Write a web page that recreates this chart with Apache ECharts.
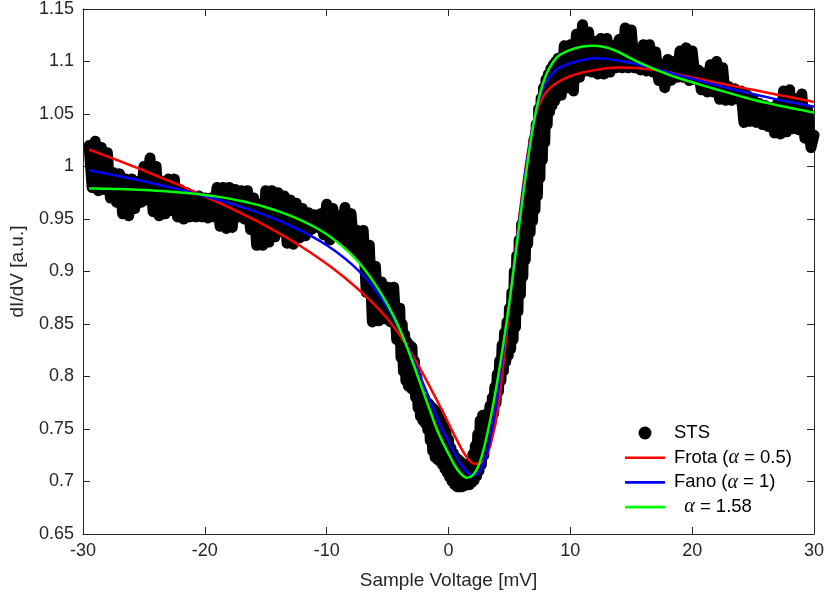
<!DOCTYPE html>
<html><head><meta charset="utf-8">
<script src="https://cdn.jsdelivr.net/npm/echarts/dist/echarts.min.js"></script>
<style>html,body{margin:0;padding:0;background:#fff}#c{width:829px;height:604px}</style>
</head><body><div id="c"></div>
<script>
// ---- axis ticks ----
const xMin = -30, xMax = 30, xStep = 10;
const yMin = 0.65, yMax = 1.15, yStep = 0.05;

const stsA_start = -29.5, stsA_step = 0.25;
const stsA = [1.02,0.98,1.024,0.977,1.018,0.978,1.013,0.97,0.994,0.966,
 0.993,0.955,0.988,0.953,0.988,0.96,0.986,0.966,1.0,0.968,
 1.008,0.957,1.0,0.953,0.986,0.955,0.988,0.958,0.988,0.952,
 0.978,0.95,0.975,0.952,0.972,0.952,0.972,0.952,0.97,0.951,
 0.97,0.952,0.98,0.943,0.98,0.941,0.98,0.942,0.978,0.952,
 0.977,0.95,0.977,0.94,0.97,0.925,0.964,0.925,0.977,0.928,
 0.977,0.933,0.975,0.938,0.972,0.927,0.968,0.926,0.965,0.932,
 0.96,0.934,0.956,0.94,0.954,0.942,0.955,0.935,0.964,0.93,
 0.96,0.935,0.953,0.93,0.961,0.925,0.955,0.92,0.939,0.915,
 0.939,0.88,0.925,0.852,0.905,0.853,0.89,0.855,0.885,0.852,
 0.885,0.835];
const stsB_start = -4.0, stsB_step = 0.1;
const stsB = [0.865,0.818,0.85,0.805,0.84,0.796,0.833,0.791,0.83,0.789,
 0.828,0.787,0.815,0.78,0.80,0.77,0.786,0.762,0.78,0.758,
 0.777,0.755,0.775,0.749,0.774,0.739,0.771,0.729,0.769,0.723,
 0.767,0.721,0.765,0.719,0.76,0.716,0.754,0.712,0.747,0.708,
 0.74,0.704,0.732,0.70,0.727,0.697,0.723,0.695,0.721,0.695,
 0.719,0.695,0.717,0.696,0.716,0.697,0.716,0.697,0.718,0.699,
 0.726,0.701,0.734,0.705,0.745,0.71,0.758,0.716,0.763,0.725,
 0.763,0.736,0.765,0.747,0.772,0.756,0.78,0.765,0.79,0.775,
 0.802,0.786,0.815,0.796,0.83,0.805,0.842,0.814,0.852,0.82,
 0.865,0.826,0.88,0.835,0.90,0.847,0.915,0.862,0.93,0.878,
 0.945,0.895,0.955,0.911,0.97,0.926,0.985,0.937,1.005,0.948,
 1.025,0.959,1.04,0.972,1.055,0.989,1.065,1.006,1.075,1.023,
 1.083,1.04,1.088,1.052,1.093,1.058,1.097,1.062,1.10,1.066,
 1.103];
const stsC_start = 9.25, stsC_step = 0.25;
const stsC = [1.068,1.115,1.075,1.116,1.072,1.126,1.085,1.135,1.091,1.128,
 1.09,1.119,1.088,1.122,1.088,1.122,1.09,1.115,1.094,1.121,
 1.094,1.132,1.094,1.13,1.094,1.111,1.092,1.116,1.091,1.116,
 1.09,1.109,1.082,1.097,1.075,1.102,1.082,1.10,1.085,1.11,
 1.085,1.113,1.082,1.11,1.083,1.092,1.073,1.089,1.071,1.097,
 1.071,1.10,1.064,1.094,1.063,1.076,1.063,1.074,1.064,1.072,
 1.042,1.068,1.043,1.064,1.042,1.06,1.04,1.058,1.038,1.056,
 1.032,1.06,1.031,1.072,1.033,1.073,1.036,1.064,1.035,1.069,
 1.027,1.053,1.018,1.03];

// ---- fitted curves (sampled) ----
const curveX = [-29.5,-29,-28,-27,-26,-25,-24,-23,-22,-21,-20,-19,-18,-17,-16,-15,-14,-13,-12,-11,-10,-9,-8,-7,-6,-5,-4,-3,-2,
 -1.5,-1,-0.5,0,0.5,1,1.5,2,2.5,3,3.5,4,4.5,5,5.5,6,6.5,7,7.5,8,8.5,9,
 10,11,12,13,14,15,16,17,18,19,20,21,22,23,24,25,26,27,28,29,30];
const frota = [1.016,1.0139,1.0096,1.0052,1.0007,0.9961,0.9914,0.9866,0.9817,0.9767,0.9716,0.9664,0.961,0.9554,0.9496,0.9435,0.9371,0.9303,0.9231,0.9155,0.9073,0.8985,0.889,0.8787,0.8675,0.8547,0.8395,0.8213,0.8005,
 0.7895,0.7785,0.7672,0.7555,0.7437,0.7325,0.7232,0.7175,0.7168,0.7218,0.7375,0.765,0.811,0.866,0.92,0.97,1.0125,1.0425,1.0605,1.0705,1.0765,1.0805,
 1.086,1.0895,1.0918,1.0935,1.0942,1.094,1.0932,1.0918,1.09,1.0874,1.0848,1.0823,1.0799,1.0776,1.0753,1.073,1.0707,1.0684,1.0661,1.0638,1.0615];
const fano = [0.9965,0.9953,0.9931,0.9908,0.9884,0.9859,0.9833,0.9806,0.9778,0.9749,0.9718,0.9686,0.9652,0.9616,0.9577,0.9535,0.9489,0.9438,0.9382,0.932,0.925,0.917,0.9075,0.8962,0.8825,0.8655,0.8442,0.8185,0.791,
 0.777,0.7627,0.7498,0.7385,0.727,0.7167,0.7093,0.7058,0.7085,0.7205,0.7455,0.7805,0.8255,0.8695,0.918,0.966,1.009,1.043,1.066,1.08,1.088,1.0935,
 1.0985,1.1015,1.103,1.1025,1.1008,1.0985,1.0958,1.0928,1.0897,1.0866,1.0836,1.0805,1.0776,1.0746,1.0717,1.069,1.0664,1.0639,1.0615,1.0592,1.057];
const alpha158 = [0.979,0.979,0.9788,0.9785,0.9781,0.9776,0.977,0.9762,0.9753,0.9742,0.9729,0.9713,0.9694,0.9671,0.9644,0.9612,0.9575,0.9532,0.9482,0.9424,0.9355,0.9268,0.9165,0.9035,0.8875,0.8685,0.845,0.8155,0.783,
 0.767,0.751,0.738,0.7265,0.7155,0.7075,0.7035,0.706,0.716,0.736,0.763,0.795,0.831,0.871,0.916,0.962,1.005,1.042,1.069,1.087,1.098,1.105,
 1.111,1.1142,1.115,1.1132,1.1088,1.1028,1.0972,1.0922,1.0878,1.0838,1.0803,1.0768,1.0734,1.0701,1.0668,1.0636,1.0609,1.0584,1.056,1.0537,1.0513];

const names = ['STS', 'Frota (α = 0.5)', 'Fano (α = 1)', '  α = 1.58'];

function seg(start, step, ys) { return ys.map((y, i) => [+(start + i * step).toFixed(3), y]); }
const stsData = seg(stsA_start, stsA_step, stsA).concat(seg(stsB_start, stsB_step, stsB), seg(stsC_start, stsC_step, stsC));
const zip = ys => curveX.map((x, i) => [x, ys[i]]);

const FONT = 'Liberation Sans';
const AX = '#262626';
const lineIcon = 'path://M0,0 M0,5.2 L40,5.2 L40,7.8 L0,7.8 Z M40,13';
const fmt = v => String(parseFloat((+v).toFixed(2)));

const chart = echarts.init(document.getElementById('c'), null, {renderer: 'canvas'});
const baseX = {type: 'value', min: xMin, max: xMax, interval: xStep, splitLine: {show: false},
  axisLine: {show: true, onZero: false, lineStyle: {color: AX, width: 1}},
  axisTick: {show: true, inside: true, length: 7, lineStyle: {color: AX, width: 1}}};
const baseY = {type: 'value', min: yMin, max: yMax, interval: yStep, splitLine: {show: false},
  axisLine: {show: true, onZero: false, lineStyle: {color: AX, width: 1}},
  axisTick: {show: true, inside: true, length: 7, lineStyle: {color: AX, width: 1}}};

chart.setOption({
  animation: false,
  backgroundColor: '#fff',
  grid: {left: 82, right: 15, top: 8, bottom: 70, containLabel: false},
  xAxis: [
    Object.assign({}, baseX, {position: 'bottom',
      axisLabel: {margin: 8, fontFamily: FONT, fontSize: 18, color: AX, formatter: fmt},
      name: 'Sample Voltage [mV]', nameLocation: 'middle', nameGap: 37,
      nameTextStyle: {fontFamily: FONT, fontSize: 19, color: AX}}),
    Object.assign({}, baseX, {position: 'top', axisLabel: {show: false}})
  ],
  yAxis: [
    Object.assign({}, baseY, {position: 'left',
      axisLabel: {margin: 9, fontFamily: FONT, fontSize: 18, color: AX, formatter: fmt},
      name: 'dI/dV [a.u.]', nameLocation: 'middle', nameGap: 56, nameRotate: 90,
      nameTextStyle: {fontFamily: FONT, fontSize: 19, color: AX}}),
    Object.assign({}, baseY, {position: 'right', axisLabel: {show: false}})
  ],
  legend: {
    orient: 'vertical', left: 625, top: 423, padding: 0, itemGap: 4.7,
    itemWidth: 40, itemHeight: 13, selectedMode: false,
    itemStyle: {borderWidth: 0},
    textStyle: {fontFamily: FONT, fontSize: 18.5, color: '#000', lineHeight: 20, padding: [0, 0, 0, 4],
      rich: {a: {fontFamily: 'Liberation Serif', fontStyle: 'italic', fontSize: 20, color: '#000'}}},
    formatter: n => n.replace(/α/g, '{a|α}'),
    data: [{name: names[0], icon: 'circle'}, {name: names[1], icon: lineIcon},
           {name: names[2], icon: lineIcon}, {name: names[3], icon: lineIcon}]
  },
  series: [
    {name: names[0], type: 'line', data: stsData, showSymbol: false, clip: false, silent: true, z: 1,
      lineStyle: {color: '#000', width: 11, cap: 'round', join: 'round'}, itemStyle: {color: '#000'}},
    {name: names[1], type: 'line', data: zip(frota), smooth: 0.3, showSymbol: false, z: 2, silent: true,
      lineStyle: {color: '#ff0000', width: 2.5}, itemStyle: {color: '#ff0000'}},
    {name: names[2], type: 'line', data: zip(fano), smooth: 0.3, showSymbol: false, z: 3, silent: true,
      lineStyle: {color: '#0000ff', width: 2.5}, itemStyle: {color: '#0000ff'}},
    {name: names[3], type: 'line', data: zip(alpha158), smooth: 0.3, showSymbol: false, z: 4, silent: true,
      lineStyle: {color: '#00ff00', width: 2.5}, itemStyle: {color: '#00ff00'}}
  ]
});
</script>
</body></html>
